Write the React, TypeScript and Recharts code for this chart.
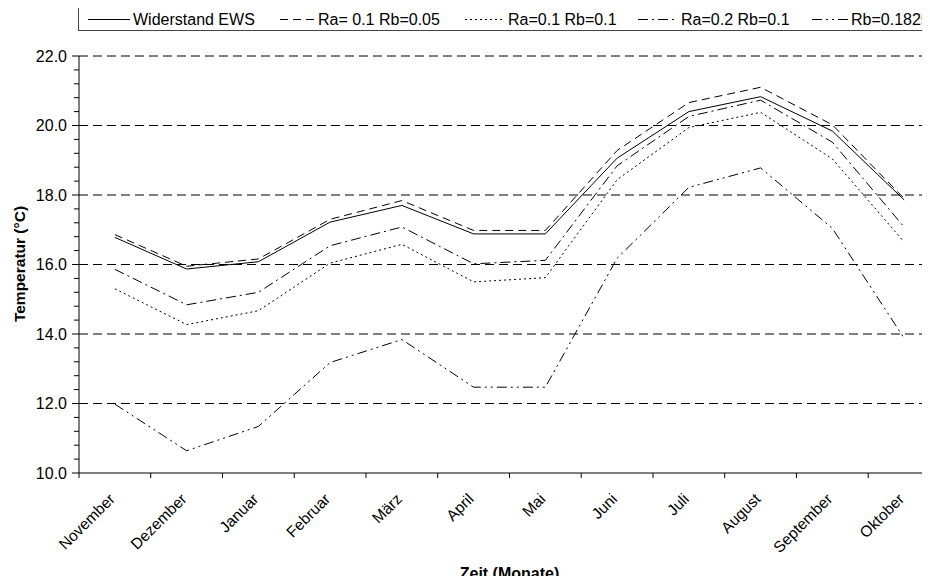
import { LineChart, Line, XAxis, YAxis, ReferenceLine, Label } from 'recharts';

const months = ['November', 'Dezember', 'Januar', 'Februar', 'März', 'April', 'Mai', 'Juni', 'Juli', 'August', 'September', 'Oktober'];

const widerstandEws = [16.78, 15.87, 16.08, 17.22, 17.7, 16.88, 16.88, 19.06, 20.4, 20.83, 19.84, 17.86];
const ra01Rb005 = [16.86, 15.95, 16.16, 17.3, 17.84, 16.98, 16.98, 19.28, 20.66, 21.1, 20.02, 17.9];
const ra01Rb01 = [15.3, 14.27, 14.67, 16.04, 16.58, 15.5, 15.62, 18.44, 19.94, 20.38, 19.04, 16.65];
const ra02Rb01 = [15.86, 14.84, 15.2, 16.54, 17.08, 16.02, 16.12, 18.84, 20.26, 20.73, 19.52, 17.08];
const rb01825 = [11.98, 10.64, 11.34, 13.18, 13.84, 12.47, 12.47, 16.18, 18.22, 18.78, 17.04, 13.88];

const yMajorTicks = [10, 12, 14, 16, 18, 20, 22];
const gridValues = [12, 14, 16, 18, 20, 22];

const series = [
  { key: 'ews', name: 'Widerstand EWS', values: widerstandEws, dash: undefined },
  { key: 'a', name: 'Ra= 0.1 Rb=0.05', values: ra01Rb005, dash: '8 5' },
  { key: 'b', name: 'Ra=0.1 Rb=0.1', values: ra01Rb01, dash: '2 3' },
  { key: 'c', name: 'Ra=0.2 Rb=0.1', values: ra02Rb01, dash: '10 4 2 4' },
  { key: 'd', name: 'Rb=0.1825', values: rb01825, dash: '10 4 2 4 2 4' },
];

const data = months.map((month, i) => {
  const row: Record<string, any> = { month };
  series.forEach((s) => (row[s.key] = s.values[i]));
  return row;
});

// minor ticks every 0.4 between the major ones
const yTicks: number[] = [];
for (let i = 0; i < yMajorTicks.length - 1; i++) {
  const step = (yMajorTicks[i + 1] - yMajorTicks[i]) / 5;
  for (let j = 0; j < 5; j++) yTicks.push(Math.round((yMajorTicks[i] + j * step) * 10) / 10);
}
yTicks.push(yMajorTicks[yMajorTicks.length - 1]);

const FONT = '"Liberation Sans", Arial, sans-serif';
const HALF_BAND = 35.9;

const YTick = (props: any) => {
  const { x, y, payload } = props;
  const major = yMajorTicks.includes(payload.value);
  return (
    <g>
      <line x1={x - (major ? 7 : 5)} x2={x} y1={y} y2={y} stroke="#000" />
      {major && (
        <text x={x - 12} y={y + 5.5} textAnchor="end" fontSize={16} fontFamily={FONT} fill="#000">
          {payload.value.toFixed(1)}
        </text>
      )}
    </g>
  );
};

const MonthTick = (props: any) => {
  const { x, y, payload, index, visibleTicksCount } = props;
  const last = index === visibleTicksCount - 1;
  const tx = x + 1;
  const ty = y + 27;
  return (
    <g>
      <line x1={x - HALF_BAND} x2={x - HALF_BAND} y1={y} y2={y + 5} stroke="#000" />
      {last && <line x1={x + HALF_BAND} x2={x + HALF_BAND} y1={y} y2={y + 5} stroke="#000" />}
      <text x={tx} y={ty} transform={`rotate(-45, ${tx}, ${ty})`} textAnchor="end" fontSize={15.5} fontFamily={FONT} fill="#000">
        {payload.value}
      </text>
    </g>
  );
};

const legendX = [88, 280, 465, 638, 812];
const legendLen = [42, 35, 40, 40, 36];

const ChartLegend = () => (
  <svg width={930} height={40} style={{ position: 'absolute', left: 0, top: 0 }}>
    <rect x={78.5} y={7.5} width={900} height={23} fill="#fff" stroke="#444" />
    {series.map((s, i) => (
      <g key={s.key}>
        <line x1={legendX[i]} x2={legendX[i] + legendLen[i]} y1={19.5} y2={19.5} stroke="#000" strokeDasharray={s.dash} />
        <text x={legendX[i] + legendLen[i] + 3} y={25} fontSize={16} fontFamily={FONT} fill="#000">
          {s.name}
        </text>
      </g>
    ))}
  </svg>
);

export default function App() {
  return (
    <div style={{ position: 'relative', width: 930, height: 584, overflow: 'hidden', margin: -8, background: '#fff' }}>
      <LineChart width={960} height={584} data={data} margin={{ top: 56, right: 20, bottom: 0, left: 0 }}>
        <XAxis
          dataKey="month"
          height={111}
          interval={0}
          padding={{ left: HALF_BAND, right: HALF_BAND }}
          tickSize={0}
          tickMargin={0}
          tickLine={false}
          axisLine={{ stroke: '#000' }}
          tick={<MonthTick />}
        >
          <Label
            content={() => (
              <text x={509.5} y={579} textAnchor="middle" fontSize={16} fontWeight="bold" fontFamily={FONT} fill="#000">
                Zeit (Monate)
              </text>
            )}
          />
        </XAxis>
        <YAxis
          type="number"
          domain={[10, 22]}
          ticks={yTicks}
          interval={0}
          width={79}
          tickSize={0}
          tickMargin={0}
          tickLine={false}
          axisLine={{ stroke: '#000' }}
          tick={<YTick />}
          allowDataOverflow
        >
          <Label
            content={() => (
              <text x={21} y={264} transform="rotate(-90, 21, 264)" textAnchor="middle" dominantBaseline="middle" fontSize={15.5} fontWeight="bold" fontFamily={FONT} fill="#000">
                Temperatur (°C)
              </text>
            )}
          />
        </YAxis>
        {gridValues.map((v) => (
          <ReferenceLine key={v} y={v} stroke="#000" strokeDasharray="9 5" />
        ))}
        {series.map((s) => (
          <Line
            key={s.key}
            type="linear"
            dataKey={s.key}
            name={s.name}
            stroke="#000"
            strokeWidth={1}
            strokeDasharray={s.dash}
            dot={false}
            activeDot={false}
            isAnimationActive={false}
          />
        ))}
      </LineChart>
      <ChartLegend />
    </div>
  );
}
